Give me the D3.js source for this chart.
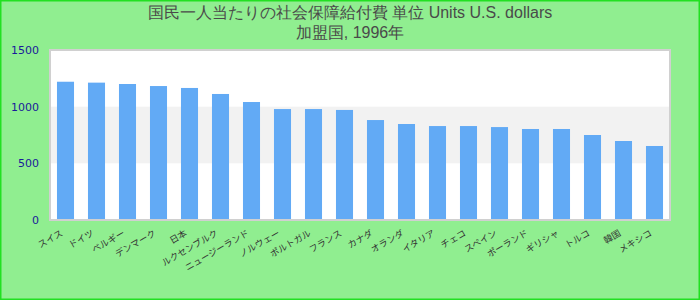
<!DOCTYPE html>
<html>
<head>
<meta charset="utf-8">
<script src="https://cdn.jsdelivr.net/npm/d3@7"></script>
<style>
  html, body { margin: 0; padding: 0; background: #90ee90; }
  svg { display: block; }
</style>
</head>
<body>
<div id="chart"></div>
<script>
// chart data
const titleLines = ["国民一人当たりの社会保障給付費 単位 Units U.S. dollars", "加盟国, 1996年"];
const countries = ["スイス", "ドイツ", "ベルギー", "デンマーク", "日本", "ルクセンブルク", "ニュージーランド",
  "ノルウェー", "ポルトガル", "フランス", "カナダ", "オランダ", "イタリア", "チェコ", "スペイン",
  "ポーランド", "ギリシャ", "トルコ", "韓国", "メキシコ"];
const values = [1220, 1212, 1200, 1182, 1165, 1112, 1041, 979, 979, 971,
  882, 847, 829, 829, 820, 803, 803, 750, 697, 653];
const yTicks = [0, 500, 1000, 1500];

const width = 700, height = 300;
const margin = { top: 50, right: 30, bottom: 80, left: 50 };
const plotW = width - margin.left - margin.right;
const plotH = height - margin.top - margin.bottom;

const svg = d3.select("#chart").append("svg")
  .attr("width", width)
  .attr("height", height);

// background + outer border
svg.append("rect")
  .attr("x", 0.75).attr("y", 0.75)
  .attr("width", width - 1.5).attr("height", height - 1.5)
  .attr("fill", "#90ee90")
  .attr("stroke", "#22e022")
  .attr("stroke-width", 1.5);

// title
svg.append("g")
  .selectAll("text")
  .data(titleLines)
  .join("text")
  .attr("x", width / 2)
  .attr("y", (d, i) => 18 + i * 20)
  .attr("text-anchor", "middle")
  .style("font-family", "'Liberation Sans', Arial, sans-serif")
  .style("font-size", "16px")
  .style("fill", "#4a4a4a")
  .text(d => d);

const x = d3.scaleBand()
  .domain(countries)
  .range([0, plotW])
  .paddingInner(0.45)
  .paddingOuter(0.225);

const y = d3.scaleLinear()
  .domain([0, 1500])
  .range([plotH, 0]);

const g = svg.append("g")
  .attr("transform", `translate(${margin.left},${margin.top})`);

// plot background with alternating bands
g.append("rect")
  .attr("width", plotW).attr("height", plotH)
  .attr("fill", "#fff");

const bands = d3.pairs(yTicks).filter((d, i) => i % 2 === 1);
g.selectAll("rect.band")
  .data(bands)
  .join("rect")
  .attr("class", "band")
  .attr("x", 0)
  .attr("width", plotW)
  .attr("y", d => y(d[1]))
  .attr("height", d => y(d[0]) - y(d[1]))
  .attr("fill", "#f2f2f2");

// bars
g.selectAll("rect.bar")
  .data(values)
  .join("rect")
  .attr("class", "bar")
  .attr("x", (d, i) => x(countries[i]))
  .attr("width", x.bandwidth())
  .attr("y", d => y(d))
  .attr("height", d => plotH - y(d))
  .attr("fill", "#62aaf5");

// plot border
g.append("rect")
  .attr("width", plotW).attr("height", plotH)
  .attr("fill", "none")
  .attr("stroke", "#d0d0d0")
  .attr("stroke-width", 2);

// y axis labels
const yAxis = g.append("g")
  .call(d3.axisLeft(y).tickValues(yTicks).tickFormat(d3.format("d")).tickSize(0).tickPadding(11));
yAxis.select(".domain").remove();
yAxis.selectAll("text")
  .style("font-family", "'DejaVu Sans', sans-serif")
  .style("font-size", "11px")
  .style("fill", "#1a1a9a");

// x axis labels, rotated
const xAxis = g.append("g")
  .attr("transform", `translate(0,${plotH})`)
  .call(d3.axisBottom(x).tickSize(0).tickPadding(0));
xAxis.select(".domain").remove();
xAxis.selectAll("text")
  .style("font-family", "'Noto Sans CJK JP', sans-serif")
  .style("font-size", "9px")
  .style("fill", "#333")
  .attr("text-anchor", "end")
  .attr("dy", null)
  .attr("y", 0)
  .attr("transform", "translate(-2,15) rotate(-30)");
</script>
</body>
</html>
